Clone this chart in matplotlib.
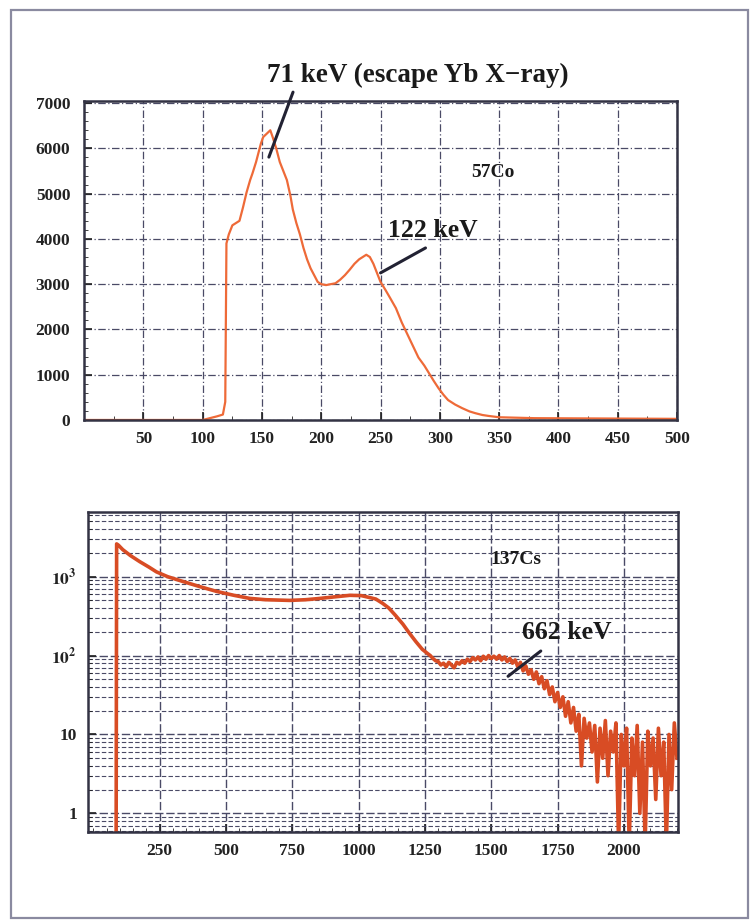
import matplotlib
matplotlib.use('Agg')
import matplotlib.pyplot as plt
import numpy as np
from matplotlib.patches import Rectangle
from matplotlib.ticker import MultipleLocator, FixedLocator, FixedFormatter, LogLocator, NullFormatter

plt.rcParams['font.family'] = ['Liberation Serif', 'DejaVu Serif']
plt.rcParams['mathtext.fontset'] = 'stix'

# 57Co spectrum (channel, counts)
co_x = [0, 100, 106, 112, 117, 119, 120, 122, 125, 128, 131, 134, 137, 140, 142, 145,
        147, 149, 151, 153, 155, 157, 159, 162, 165, 168, 171, 174, 176, 179, 182,
        185, 188, 191, 194, 197, 200, 204, 208, 212, 216, 220, 224, 228, 232, 235,
        238, 241, 244, 247, 250, 254, 258, 263, 268, 274, 278, 282, 287, 291, 295,
        299, 303, 307, 313, 319, 325, 330, 336, 341, 350, 380, 420, 460, 500]
co_y = [0, 0, 40, 80, 120, 400, 3900, 4100, 4300, 4350, 4400, 4700, 5030, 5300, 5450, 5700,
        5900, 6100, 6250, 6300, 6350, 6400, 6250, 6000, 5700, 5500, 5300, 4950, 4650, 4350, 4100,
        3800, 3550, 3350, 3200, 3050, 3000, 2980, 3000, 3020, 3100, 3200, 3320, 3450, 3550, 3600,
        3650, 3600, 3450, 3250, 3050, 2880, 2700, 2470, 2150, 1820, 1600, 1380, 1200, 1030, 860,
        700, 560, 440, 340, 260, 190, 150, 110, 90, 60, 40, 35, 30, 25]

# 137Cs spectrum, smooth part then binned tail
cs_x = [80, 86, 88, 95, 111, 140, 175, 210, 238, 280, 337, 400, 465, 530, 590, 650,
        740, 800, 842, 900, 967, 1010, 1040, 1065, 1090, 1114, 1140, 1167, 1190, 1216,
        1240, 1260]
cs_y = [0.3, 0.3, 2600, 2500, 2200, 1850, 1550, 1320, 1150, 1000, 870, 750, 650, 580, 530, 510,
        500, 510, 525, 550, 580, 575, 545, 520, 460, 400, 320, 250, 195, 150,
        120, 106]
cs_tail_x = np.arange(1270, 2201, 10)
cs_tail_y = [100, 92, 86, 84, 76, 80, 72, 82, 76, 70,
             82, 78, 86, 80, 90, 84, 94, 88, 96, 86,
             98, 90, 100, 92, 98, 90, 100, 88, 96, 84,
             92, 80, 88, 72, 82, 64, 74, 58, 66, 50,
             62, 44, 54, 38, 48, 32, 40, 26, 34, 22,
             30, 17, 26, 14, 22, 11, 18, 4, 16, 9,
             14, 6, 13, 2.5, 12, 5, 15, 3, 11, 6,
             14, 0.4, 10, 4, 12, 0.4, 9, 3, 13, 1,
             8, 0.4, 11, 4, 9, 1.5, 12, 3, 8, 0.4,
             10, 2, 14, 5]

fig = plt.figure(figsize=(7.52, 9.21), dpi=100)
fig.add_artist(Rectangle((0.0146, 0.0033), 0.980, 0.986, transform=fig.transFigure,
                         fill=False, ec='#8a8aa0', lw=1.6))

grid_col = '#4a4a66'
text_kw = dict(color='#1a1a1a', fontweight='bold')

# ---- top panel: 57Co, linear ----
ax1 = fig.add_axes([0.112, 0.544, 0.788, 0.3465])
ax1.plot(co_x, co_y, color='#ee6a38', lw=1.6)
ax1.set_xlim(0, 500)
ax1.set_ylim(0, 7050)
ax1.xaxis.set_major_locator(FixedLocator([50, 100, 150, 200, 250, 300, 350, 400, 450, 500]))
ax1.xaxis.set_minor_locator(MultipleLocator(25))
ax1.yaxis.set_major_locator(MultipleLocator(1000))
ax1.yaxis.set_minor_locator(MultipleLocator(200))
ax1.grid(True, which='major', ls=(0, (6, 2, 1, 2)), color=grid_col, lw=0.9)
ax1.tick_params(which='both', direction='in', labelsize=12.5, colors='#222222')
ax1.tick_params(which='major', length=6, width=1.2)
ax1.tick_params(which='minor', length=3)
ax1.tick_params(axis='x', pad=8)
ax1.tick_params(axis='y', pad=10)
for s in ax1.spines.values():
    s.set_linewidth(1.8)
    s.set_color('#333344')

ax1.annotate('', xy=(155, 5750), xytext=(177, 7300), annotation_clip=False,
             arrowprops=dict(arrowstyle='-', lw=2.2, color='#222233'))
ax1.text(154, 7620, '71 keV (escape Yb X\u2212ray)', ha='left', va='center', fontsize=19.5,
         **text_kw)
ax1.annotate('', xy=(248, 3220), xytext=(290, 3830),
             arrowprops=dict(arrowstyle='-', lw=2.2, color='#222233'))
ax1.text(294, 4180, '122 keV', ha='center', va='center', fontsize=18.5, **text_kw)
ax1.text(345, 5470, '57Co', ha='center', va='center', fontsize=14, **text_kw)

# ---- bottom panel: 137Cs, log ----
ax2 = fig.add_axes([0.117, 0.0966, 0.785, 0.3475])
ax2.plot(list(cs_x) + list(cs_tail_x), cs_y + cs_tail_y, color='#d84c24', lw=2.6)
ax2.set_yscale('log')
ax2.set_xlim(-20, 2205)
ax2.set_ylim(0.58, 6600)
ax2.xaxis.set_major_locator(FixedLocator([250, 500, 750, 1000, 1250, 1500, 1750, 2000]))
ax2.xaxis.set_minor_locator(MultipleLocator(50))
ax2.yaxis.set_major_locator(FixedLocator([1, 10, 100, 1000]))
ax2.yaxis.set_major_formatter(FixedFormatter(['1', '10', r'$\mathbf{10^2}$', r'$\mathbf{10^3}$']))
ax2.yaxis.set_minor_locator(LogLocator(base=10, subs=np.arange(2, 10)))
ax2.yaxis.set_minor_formatter(NullFormatter())
ax2.grid(True, which='major', ls=(0, (6, 2)), color=grid_col, lw=1.0)
ax2.grid(True, which='minor', axis='y', ls=(0, (4, 2)), color=grid_col, lw=0.8)
ax2.tick_params(which='both', direction='in', labelsize=12.5, colors='#222222')
ax2.tick_params(which='major', length=6, width=1.2)
ax2.tick_params(which='minor', length=3)
ax2.tick_params(axis='x', pad=8)
ax2.tick_params(axis='y', pad=8)
for s in ax2.spines.values():
    s.set_linewidth(1.8)
    s.set_color('#333344')

ax2.annotate('', xy=(1555, 52), xytext=(1695, 120),
             arrowprops=dict(arrowstyle='-', lw=2.2, color='#222233'))
ax2.text(1786, 195, '662 keV', ha='center', va='center', fontsize=18.5, **text_kw)
ax2.text(1593, 1640, '137Cs', ha='center', va='center', fontsize=14, **text_kw)

for ax in (ax1, ax2):
    for lab in ax.get_xticklabels() + ax.get_yticklabels():
        lab.set_fontweight('bold')

fig.savefig('out.png', dpi=100, facecolor='white')
